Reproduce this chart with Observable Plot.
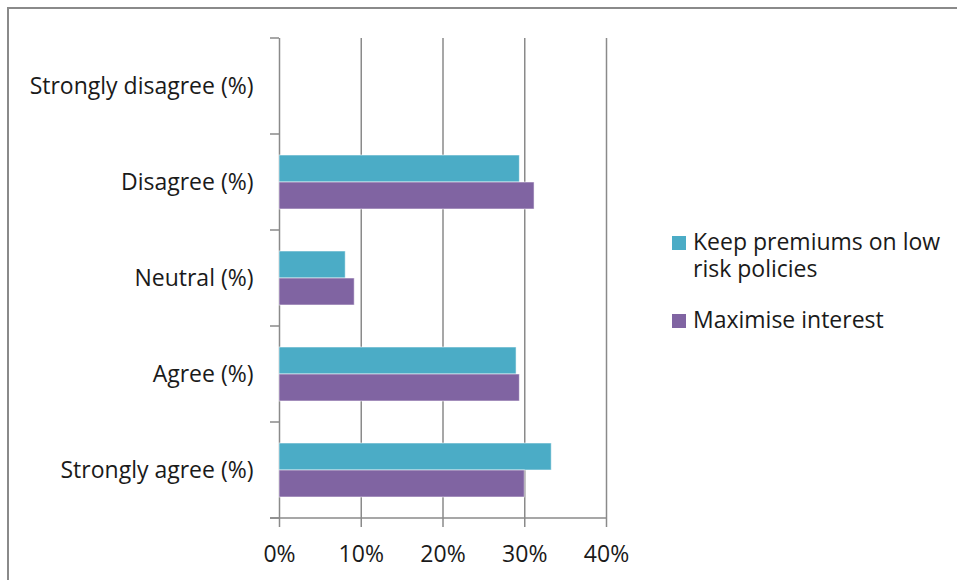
<!DOCTYPE html>
<html>
<head>
<meta charset="utf-8">
<script src="https://cdn.jsdelivr.net/npm/d3@7"></script>
<script src="https://cdn.jsdelivr.net/npm/@observablehq/plot@0.6"></script>
<style>
  html, body { margin: 0; padding: 0; background: #ffffff; }
  #chart { position: relative; width: 957px; height: 580px; overflow: hidden; font-family: "Open Sans", Lato, sans-serif; color: #1a1a1a; }
  #chart svg { position: absolute; left: 0; top: 0; }
  #border { position: absolute; left: 7px; top: 7px; width: 1000px; height: 1000px; border-top: 2px solid #8a8a8a; border-left: 2px solid #8a8a8a; }
  #legend { position: absolute; left: 672px; top: 228px; width: 282px; font-size: 23px; line-height: 27px; }
  .item { position: relative; padding-left: 21px; margin-bottom: 24px; }
  .swatch { position: absolute; left: 0; top: 8px; width: 14px; height: 14px; }
</style>
</head>
<body>
<div id="chart">
  <div id="border"></div>
  <div id="legend"></div>
</div>
<script>
// Survey response categories, top to bottom
const categories = ["Strongly disagree (%)", "Disagree (%)", "Neutral (%)", "Agree (%)", "Strongly agree (%)"];
// Series names and colours
const seriesNames = ["Keep premiums on low risk policies", "Maximise interest"];
const seriesColors = ["#4BACC6", "#8064A2"];
// Percent of respondents per category (null = no bar)
const keepPremiums = [null, 29.4, 8.1, 29.0, 33.3];
const maximiseInterest = [null, 31.2, 9.2, 29.4, 30.0];
// Axis ticks (percent)
const xTicks = [0, 10, 20, 30, 40];

// Long table; rows with no value are kept so every category gets its facet
const data = [];
categories.forEach((c, i) => {
  data.push({category: c, series: seriesNames[0], value: keepPremiums[i]});
  data.push({category: c, series: seriesNames[1], value: maximiseInterest[i]});
});

const gridColor = "#8a8a8a";
const textColor = "#1a1a1a";
const font = "'Open Sans', Lato, sans-serif";

const chart = Plot.plot({
  width: 957,
  height: 580,
  marginLeft: 279,
  marginRight: 351,
  marginTop: 37,
  marginBottom: 62,
  style: {fontFamily: font, fontSize: "23px", color: textColor, background: "transparent", overflow: "visible"},
  facet: {data, y: "category"},
  x: {domain: [0, 40]},
  fy: {domain: categories, padding: 0},
  y: {domain: seriesNames, paddingInner: 0, paddingOuter: 0.745, axis: null},
  color: {domain: seriesNames, range: seriesColors},
  marks: [
    Plot.gridX(xTicks, {stroke: gridColor, strokeOpacity: 1, strokeWidth: 1.5}),
    Plot.barX(data, {
      y: "series",
      x: "value",
      fill: "series",
      stroke: "#ffffff",
      strokeOpacity: 0.55,
      strokeWidth: 1
    }),
    Plot.axisX(xTicks, {
      anchor: "bottom",
      tickSize: 9,
      tickPadding: 18,
      stroke: gridColor,
      strokeWidth: 1.5,
      fill: textColor,
      fontSize: 23,
      tickFormat: d => d + "%",
      label: null
    }),
    Plot.axisFy({
      anchor: "left",
      tickSize: 0,
      tickPadding: 26,
      fill: textColor,
      fontSize: 23,
      label: null
    })
  ]
});

// Category boundary ticks and the bottom axis line, from the plot's own scales
const fy = chart.scale("fy");
const x = chart.scale("x");
const x0 = x.apply(0);
const xMax = x.apply(xTicks[xTicks.length - 1]);
const bounds = categories.map(c => fy.apply(c));
bounds.push(fy.apply(categories[categories.length - 1]) + fy.bandwidth);
const g = d3.select(chart).append("g")
  .attr("stroke", gridColor)
  .attr("stroke-width", 1.5);
g.selectAll("line.bt").data(bounds).join("line")
  .attr("class", "bt")
  .attr("x1", x0 - 9).attr("x2", x0)
  .attr("y1", d => d).attr("y2", d => d);
g.append("line")
  .attr("x1", x0 - 9).attr("x2", xMax)
  .attr("y1", bounds[bounds.length - 1]).attr("y2", bounds[bounds.length - 1]);

document.getElementById("chart").insertBefore(chart, document.getElementById("legend"));

// Legend
const legend = d3.select("#legend");
seriesNames.forEach((name, i) => {
  const item = legend.append("div").attr("class", "item");
  item.append("div").attr("class", "swatch").style("background", seriesColors[i]);
  item.append("div").text(name);
});
</script>
</body>
</html>
